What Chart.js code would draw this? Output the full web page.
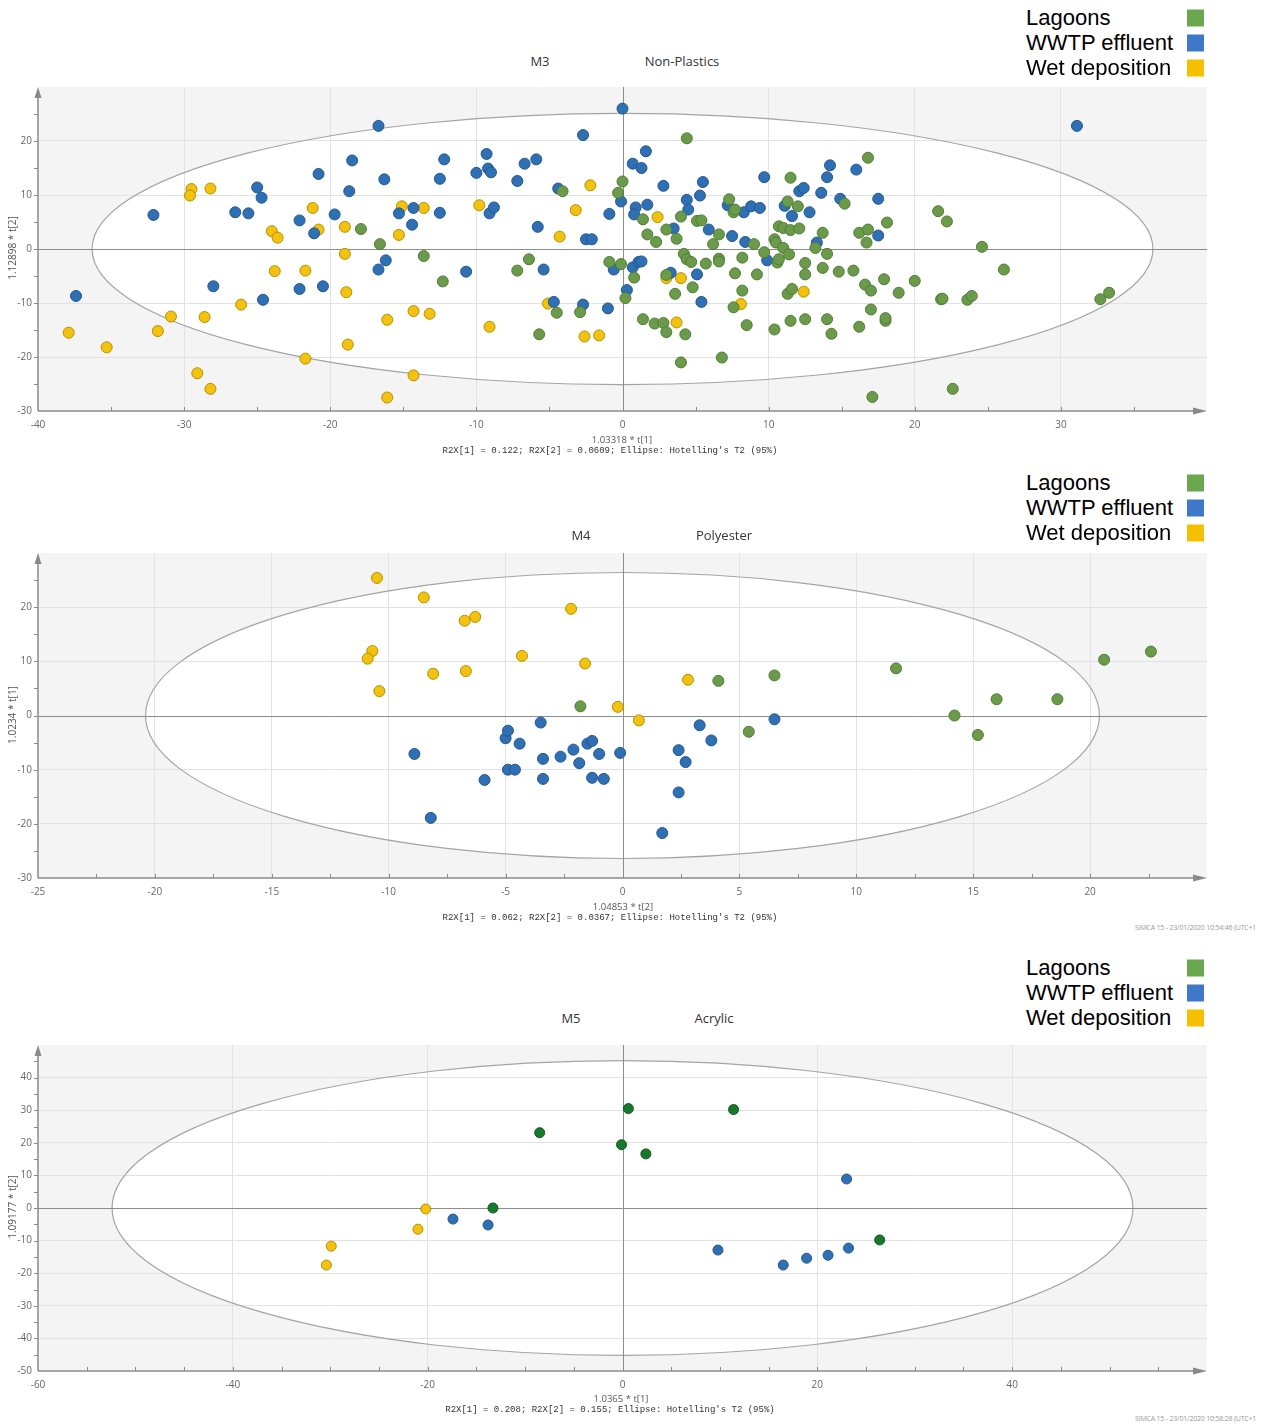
<!DOCTYPE html>
<html>
<head>
<meta charset="utf-8">
<script src="https://cdn.jsdelivr.net/npm/chart.js@4.4.1/dist/chart.umd.min.js"></script>
<style>
  body { margin: 0; background: #fff; width: 1271px; height: 1428px; position: relative; overflow: hidden; font-family: 'Open Sans', sans-serif; }
  canvas { position: absolute; left: 0; }
  .txt { position: absolute; white-space: nowrap; }
  .title { font-size: 13px; color: #333; transform: translate(-50%, -50%); }
  .leg { font-family: 'Liberation Sans', Arial, sans-serif; font-size: 22px; color: #000; transform: translateY(-50%); }
  .sq { position: absolute; width: 17px; height: 17px; transform: translateY(-50%); }
  .ytitle { font-size: 10px; color: #555; transform: translate(-50%, -50%) rotate(-90deg); }
  .xtitle { font-size: 9.5px; color: #555; transform: translate(-50%, -50%); }
  .stats { font-family: 'Liberation Mono', 'DejaVu Sans Mono', monospace; font-size: 9px; color: #333; transform: translate(-50%, -50%); }
  .foot { font-size: 7px; letter-spacing: -0.2px; color: #9a9a9a; transform: translateY(-50%); }
</style>
</head>
<body>
<canvas id="m3"></canvas>
<canvas id="m4"></canvas>
<canvas id="m5"></canvas>
<script>
// ---- data ----
const seriesNames = ['Lagoons', 'WWTP effluent', 'Wet deposition'];

// M3 Non-Plastics  [t1, t2]
const m3Lagoons = [
  [-17.9,3.7],[-16.6,0.9],[4.4,20.5],[-4.1,10.7],[0.0,12.5],[-0.3,10.4],[-13.6,-1.3],[-12.3,-6.0],[-6.4,-1.9],[-7.2,-4.0],
  [-4.5,-11.8],[-2.9,-11.7],[-5.7,-15.8],[-0.9,-2.4],[-0.1,-2.8],[0.2,-9.1],[0.8,-5.3],[1.4,5.5],[1.7,2.7],[2.3,1.3],
  [3.0,3.6],[3.7,1.9],[4.0,6.0],[5.1,5.2],[5.4,5.3],[4.2,-0.9],[4.4,-1.9],[4.7,-2.4],[3.0,-4.8],[4.8,-7.1],
  [3.6,-8.3],[5.7,-2.7],[6.2,0.9],[6.6,2.7],[6.6,-1.8],[6.6,-2.3],[7.3,9.2],[7.6,6.8],[7.7,7.3],[8.2,-1.6],
  [7.7,-4.5],[9.2,-4.7],[9.0,0.9],[9.7,-0.6],[8.2,-7.7],[7.6,-10.8],[8.5,-14.1],[1.4,-13.0],[2.2,-13.8],[2.8,-13.7],
  [3.0,-15.4],[4.3,-15.8],[4.0,-21.0],[6.8,-20.1],[10.4,-14.9],[11.5,-13.3],[12.5,-13.0],[11.3,-8.3],[11.6,-7.4],[12.5,-4.7],
  [12.5,-2.6],[10.6,-2.5],[10.7,-1.9],[10.4,1.8],[10.5,1.2],[11.0,0.2],[11.4,-1.0],[10.7,4.2],[11.0,3.9],[11.5,3.5],
  [12.1,3.8],[11.5,13.2],[11.3,8.8],[12.0,7.9],[13.2,0.2],[16.8,16.9],[15.2,8.4],[21.6,7.0],[22.2,5.1],[18.1,4.9],
  [13.7,3.0],[16.2,3.0],[16.8,3.6],[16.7,1.2],[14.0,-0.9],[24.6,0.4],[26.1,-3.8],[13.7,-3.5],[14.8,-4.2],[15.8,-4.0],
  [16.6,-6.6],[17.0,-7.7],[17.9,-5.6],[18.9,-8.1],[20.0,-5.9],[21.8,-9.3],[21.9,-9.2],[23.6,-9.4],[23.9,-8.7],[32.7,-9.3],
  [33.3,-8.1],[14.0,-13.0],[14.3,-15.7],[16.2,-14.4],[17.0,-11.2],[18.0,-13.3],[18.0,-12.8],[22.6,-25.9],[17.1,-27.4]
];
const m3Wwtp = [
  [-16.7,22.8],[-32.1,6.3],[-37.4,-8.7],[-20.8,13.9],[-18.5,16.4],[-16.3,12.9],[-18.7,10.7],[-25.0,11.4],[-24.7,9.5],[-26.5,6.8],
  [-25.6,6.6],[-22.1,5.3],[-19.7,6.4],[-21.1,2.9],[-15.3,6.6],[-14.3,7.6],[-14.4,4.5],[-16.2,-2.1],[-16.7,-3.8],[-28.0,-6.9],
  [-22.1,-7.4],[-20.5,-6.9],[-24.6,-9.4],[0.0,26.0],[-2.7,21.1],[-12.2,16.6],[-12.5,13.0],[-10.0,14.1],[-9.3,17.6],[-9.2,14.9],
  [-9.0,14.2],[-6.7,15.8],[-5.9,16.6],[-7.2,12.6],[-4.4,11.2],[-12.5,6.7],[-9.1,6.6],[-8.8,7.7],[-5.8,4.1],[-10.7,-4.2],
  [-5.4,-3.8],[-2.5,1.8],[-2.1,1.8],[-0.9,6.5],[-0.1,8.8],[0.7,15.8],[1.3,15.0],[1.6,18.1],[0.9,7.7],[0.8,6.4],
  [1.7,8.2],[2.8,11.7],[5.5,12.4],[5.3,9.9],[4.4,9.1],[4.5,7.3],[3.5,3.8],[5.9,3.6],[7.5,2.4],[8.4,1.3],
  [9.9,-2.1],[9.7,13.3],[7.2,8.1],[8.3,6.8],[8.8,7.9],[9.4,7.6],[11.1,8.0],[11.6,6.1],[12.1,10.7],[12.4,11.3],
  [12.8,6.8],[13.3,1.2],[0.7,-3.4],[1.1,-2.4],[1.3,-2.3],[-0.6,-3.8],[3.3,-4.4],[5.1,-4.7],[0.3,-7.6],[5.4,-9.8],
  [-4.7,-9.8],[-2.7,-10.3],[-1.0,-11.0],[31.1,22.8],[14.2,15.5],[14.0,13.3],[16.0,14.7],[13.6,10.4],[14.9,9.3],[17.5,9.3],
  [17.5,2.5]
];
const m3Wet = [
  [-37.9,-15.5],[-35.3,-18.2],[-31.8,-15.2],[-30.9,-12.5],[-28.6,-12.6],[-29.1,-23.0],[-28.2,-25.9],[-29.5,11.1],[-29.6,9.9],[-28.2,11.2],
  [-26.1,-10.3],[-24.0,3.3],[-23.6,2.1],[-23.8,-4.1],[-21.7,-4.0],[-21.2,7.6],[-20.8,3.6],[-21.7,-20.3],[-19.0,4.1],[-19.0,-0.9],
  [-18.9,-8.0],[-18.8,-17.7],[-16.1,-13.1],[-16.1,-27.5],[-15.1,7.9],[-15.3,2.6],[-14.3,-11.5],[-14.3,-23.4],[-2.2,11.8],[-3.2,7.2],
  [-4.3,2.3],[-9.8,8.1],[-13.6,7.6],[-13.2,-12.0],[-9.1,-14.4],[-5.1,-10.1],[-2.6,-16.2],[-1.6,-16.0],[2.4,5.9],[3.0,-5.4],
  [4.0,-5.4],[3.7,-13.6],[8.1,-10.2],[12.4,-7.9]
];

// M4 Polyester  [t2, t1]
const m4Lagoons = [
  [-1.8,1.7],[4.1,6.4],[6.5,7.4],[5.4,-3.0],[11.7,8.7],[14.2,0.0],[15.2,-3.6],[16.0,3.0],[18.6,3.0],[20.6,10.3],[22.6,11.8]
];
const m4Wwtp = [
  [-8.9,-7.1],[-8.2,-18.9],[-5.9,-11.9],[-5.0,-4.2],[-4.9,-2.8],[-4.4,-5.2],[-4.9,-10.0],[-4.6,-10.0],[-3.5,-1.3],[-3.4,-8.0],
  [-3.4,-11.7],[-2.65,-7.6],[-2.1,-6.3],[-1.85,-8.8],[-1.5,-5.2],[-1.3,-4.7],[-1.0,-7.1],[-1.3,-11.5],[-0.8,-11.7],[-0.1,-6.9],
  [1.7,-21.7],[2.4,-6.4],[2.7,-8.6],[2.4,-14.2],[3.3,-1.8],[3.8,-4.6],[6.5,-0.7]
];
const m4Wet = [
  [-10.5,25.4],[-10.7,11.9],[-10.9,10.5],[-10.4,4.5],[-8.5,21.8],[-6.75,17.5],[-6.3,18.2],[-2.2,19.7],[-4.3,11.0],[-1.6,9.6],
  [-8.1,7.7],[-6.7,8.2],[2.8,6.6],[-0.2,1.6],[0.7,-0.9]
];

// M5 Acrylic  [t1, t2]
const m5Lagoons = [[0.6,30.5],[11.4,30.2],[-8.5,23.1],[-0.1,19.4],[2.4,16.6],[-13.3,0.0],[26.4,-9.8]];
const m5Wwtp = [[23.0,8.9],[9.8,-12.9],[16.5,-17.5],[18.9,-15.4],[21.1,-14.5],[23.2,-12.3],[-17.4,-3.4],[-13.8,-5.2]];
const m5Wet = [[-20.2,-0.3],[-21.0,-6.5],[-29.9,-11.7],[-30.4,-17.5]];

// ---- styles ----
const legendColors = ['#6aa84f', '#3f78c6', '#f5c000'];
const fills   = ['#6b9b4a', '#2f6fb3', '#f2c20f'];
const borders = ['#4f7d35', '#235891', '#b89000'];

Chart.defaults.font.family = "'Open Sans', sans-serif";
Chart.defaults.font.size = 10;
Chart.defaults.color = '#666';

const frame = {
  id: 'frame',
  beforeDraw(chart, args, o) {
    const { ctx, chartArea: a, scales: { x, y } } = chart;
    ctx.save();
    ctx.fillStyle = '#f4f4f4';
    ctx.fillRect(a.left, a.top, a.right - a.left, a.bottom - a.top);
    const cx = x.getPixelForValue(0), cy = y.getPixelForValue(0);
    ctx.beginPath();
    ctx.ellipse(cx, cy, x.getPixelForValue(o.ex) - cx, cy - y.getPixelForValue(o.ey), 0, 0, Math.PI * 2);
    ctx.fillStyle = '#fff';
    ctx.fill();
    ctx.restore();
  },
  beforeDatasetsDraw(chart, args, o) {
    const { ctx, chartArea: a, scales: { x, y } } = chart;
    const cx = x.getPixelForValue(0), cy = y.getPixelForValue(0);
    ctx.save();
    // ellipse outline
    ctx.beginPath();
    ctx.ellipse(cx, cy, x.getPixelForValue(o.ex) - cx, cy - y.getPixelForValue(o.ey), 0, 0, Math.PI * 2);
    ctx.strokeStyle = '#a4a4a4';
    ctx.lineWidth = 1.2;
    ctx.stroke();
    // zero lines
    ctx.strokeStyle = '#8c8c8c';
    ctx.lineWidth = 1;
    ctx.beginPath();
    ctx.moveTo(a.left, Math.round(cy) + 0.5); ctx.lineTo(a.right, Math.round(cy) + 0.5);
    ctx.moveTo(Math.round(cx) + 0.5, a.top); ctx.lineTo(Math.round(cx) + 0.5, a.bottom);
    ctx.stroke();
    // axes with arrows
    ctx.strokeStyle = '#8a8a8a';
    ctx.fillStyle = '#8a8a8a';
    ctx.lineWidth = 1.5;
    ctx.beginPath();
    ctx.moveTo(a.left, a.bottom); ctx.lineTo(a.left, a.top + 6);
    ctx.moveTo(a.left, a.bottom); ctx.lineTo(a.right - 6, a.bottom);
    ctx.stroke();
    ctx.beginPath();
    ctx.moveTo(a.left, a.top); ctx.lineTo(a.left - 3.5, a.top + 11); ctx.lineTo(a.left + 3.5, a.top + 11); ctx.closePath();
    ctx.moveTo(a.right, a.bottom); ctx.lineTo(a.right - 14, a.bottom - 3.5); ctx.lineTo(a.right - 14, a.bottom + 3.5); ctx.closePath();
    ctx.fill();
    // minor ticks
    ctx.lineWidth = 1;
    ctx.beginPath();
    for (let v = x.min + o.mx; v < x.max - 1e-9; v += o.mx) {
      const px = Math.round(x.getPixelForValue(v)) + 0.5;
      ctx.moveTo(px, a.bottom); ctx.lineTo(px, a.bottom - 4);
    }
    for (let v = y.min + o.my; v < y.max - 1e-9; v += o.my) {
      const py = Math.round(y.getPixelForValue(v)) + 0.5;
      ctx.moveTo(a.left, py); ctx.lineTo(a.left - 4, py);
    }
    ctx.stroke();
    ctx.restore();
  }
};

function toPts(arr) { return arr.map(p => ({ x: p[0], y: p[1] })); }

function panel(id, cfg) {
  const el = document.getElementById(id);
  const h = (cfg.bottom - cfg.top) + 12 + 26;
  el.width = 1271; el.height = h;
  el.style.top = (cfg.top - 12) + 'px';
  const grid = (min, max) => ({
    color: c => (c.tick && (c.tick.value === min || c.tick.value === max || c.tick.value === 0)) ? 'rgba(0,0,0,0)' : '#e2e2e2',
    drawTicks: false,
  });
  new Chart(el, {
    type: 'scatter',
    data: {
      datasets: cfg.series.map((s, i) => ({
        label: seriesNames[i],
        data: toPts(s),
        backgroundColor: cfg.fills[i],
        borderColor: cfg.borders[i],
        borderWidth: 1,
        pointRadius: cfg.r,
      })),
    },
    options: {
      responsive: false,
      devicePixelRatio: 1,
      animation: false,
      layout: { padding: { top: 12, right: 64, left: 0, bottom: 0 } },
      plugins: {
        legend: { display: false },
        tooltip: { enabled: false },
        frame: { ex: cfg.ex, ey: cfg.ey, mx: cfg.mx, my: cfg.my },
      },
      scales: {
        x: {
          type: 'linear', min: cfg.x[0], max: cfg.x[1],
          border: { display: false },
          grid: grid(cfg.x[0], cfg.x[1]),
          ticks: { stepSize: cfg.x[2], padding: 8, maxRotation: 0, callback: v => v === cfg.x[1] ? '' : v },
          afterFit: s => { s.height = 26; },
        },
        y: {
          type: 'linear', min: cfg.y[0], max: cfg.y[1],
          border: { display: false },
          grid: grid(cfg.y[0], cfg.y[1]),
          ticks: { stepSize: cfg.y[2], padding: 6, callback: v => v === cfg.y[1] ? '' : v },
          afterFit: s => { s.width = 38; },
        },
      },
    },
    plugins: [frame],
  });
}

panel('m3', { top: 87, bottom: 411, x: [-40, 40, 10], y: [-30, 30, 10], mx: 5, my: 5, ex: 36.3, ey: 25.1, r: 5.5,
  series: [m3Lagoons, m3Wwtp, m3Wet], fills, borders });
panel('m4', { top: 553, bottom: 878, x: [-25, 25, 5], y: [-30, 30, 10], mx: 2.5, my: 5, ex: 20.4, ey: 26.4, r: 5.5,
  series: [m4Lagoons, m4Wwtp, m4Wet], fills, borders });
panel('m5', { top: 1045, bottom: 1371, x: [-60, 60, 20], y: [-50, 50, 10], mx: 5, my: 5, ex: 52.4, ey: 45.2, r: 5,
  series: [m5Lagoons, m5Wwtp, m5Wet], fills: ['#17792d', fills[1], fills[2]], borders: ['#0f5a1f', borders[1], borders[2]] });

// ---- text ----
function txt(cls, s, x, y) {
  const d = document.createElement('div');
  d.className = 'txt ' + cls;
  d.textContent = s;
  d.style.left = x + 'px';
  d.style.top = y + 'px';
  document.body.appendChild(d);
  return d;
}
function legend(y0) {
  seriesNames.forEach((n, i) => {
    txt('leg', n, 1026, y0 + i * 25);
    const q = document.createElement('div');
    q.className = 'sq';
    q.style.left = '1187px';
    q.style.top = (y0 + i * 25) + 'px';
    q.style.background = legendColors[i];
    document.body.appendChild(q);
  });
}
legend(18); legend(483); legend(968);

txt('title', 'M3', 540, 61);   txt('title', 'Non-Plastics', 682, 61);
txt('title', 'M4', 581, 535);  txt('title', 'Polyester', 724, 535);
txt('title', 'M5', 571, 1018); txt('title', 'Acrylic', 714, 1018);

txt('ytitle', '1.12898 * t[2]', 12, 248);
txt('ytitle', '1.0234 * t[1]', 12, 715);
txt('ytitle', '1.09177 * t[2]', 12, 1207);

txt('xtitle', '1.03318 * t[1]', 622, 439);
txt('stats', "R2X[1] = 0.122; R2X[2] = 0.0609; Ellipse: Hotelling's T2 (95%)", 610, 451);
txt('xtitle', '1.04853 * t[2]', 623, 906);
txt('stats', "R2X[1] = 0.062; R2X[2] = 0.0367; Ellipse: Hotelling's T2 (95%)", 610, 918);
txt('xtitle', '1.0365 * t[1]', 621, 1398);
txt('stats', "R2X[1] = 0.208; R2X[2] = 0.155; Ellipse: Hotelling's T2 (95%)", 610, 1410);

txt('foot', 'SIMCA 15 - 23/01/2020 10:54:46 (UTC+1', 1135, 927);
txt('foot', 'SIMCA 15 - 23/01/2020 10:58:28 (UTC+1', 1135, 1418);
</script>
</body>
</html>
